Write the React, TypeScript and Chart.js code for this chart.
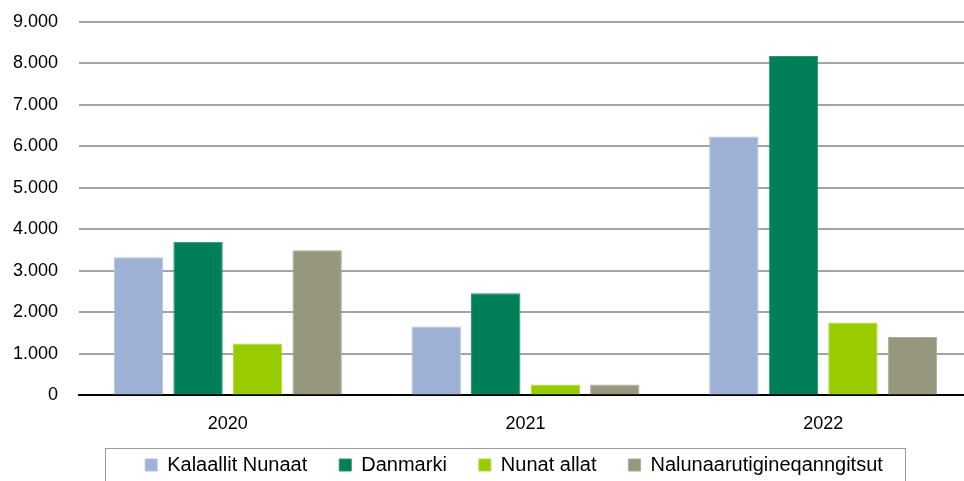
import React, { useEffect, useRef } from "react";
import { Chart, registerables } from "chart.js";

Chart.register(...registerables);

const categories = ["2020", "2021", "2022"];
const seriesNames = ["Kalaallit Nunaat", "Danmarki", "Nunat allat", "Nalunaarutigineqanngitsut"];
const kalaallitNunaat = [3330, 1660, 6240];
const danmarki = [3705, 2460, 8180];
const nunatAllat = [1250, 260, 1755];
const nalunaarutigineqanngitsut = [3500, 260, 1405];
const seriesColors = ["#9DB0D6", "#007E57", "#99CC00", "#96977D"];
const seriesBorders = ["#B4C3E0", "#2A9470", "#B3DB3D", "#ADAE98"];
const yMax = 9000;
const yStep = 1000;

const legendShiftPlugin = {
  id: "legendShift",
  afterLayout(chart: any) {
    const lg = chart.legend;
    if (!lg) return;
    const dy = 30;
    const dx = 28;
    lg.top -= dy;
    lg.bottom -= dy;
    lg.left += dx;
    lg.right += dx;
  },
};

const legendBoxPlugin = {
  id: "legendBox",
  afterDraw(chart: any) {
    const lg = chart.legend;
    if (!lg || !lg.legendHitBoxes || !lg.legendHitBoxes.length) return;
    const hb = lg.legendHitBoxes;
    const first = hb[0];
    const last = hb[hb.length - 1];
    const cy = first.top + first.height / 2;
    const ctx = chart.ctx;
    ctx.save();
    ctx.strokeStyle = "#9a9a9a";
    ctx.lineWidth = 1;
    const l = Math.round(first.left - 40) + 0.5;
    const r = Math.round(last.left + last.width + 22) + 0.5;
    const t = Math.round(cy - 17) + 0.5;
    const b = Math.round(cy + 22) + 0.5;
    ctx.strokeRect(l, t, r - l, b - t);
    ctx.restore();
  },
};

export default function App() {
  const ref = useRef<HTMLCanvasElement | null>(null);
  useEffect(() => {
    if (!ref.current) return;
    Chart.defaults.font.family = "'Liberation Sans', Arial, sans-serif";
    const values = [kalaallitNunaat, danmarki, nunatAllat, nalunaarutigineqanngitsut];
    const chart = new Chart(ref.current, {
      type: "bar",
      data: {
        labels: categories,
        datasets: seriesNames.map((name, i) => ({
          label: name,
          data: values[i],
          backgroundColor: seriesColors[i],
          borderColor: seriesBorders[i],
          borderWidth: 1,
          categoryPercentage: 0.8,
          barPercentage: 0.83,
        })),
      },
      options: {
        responsive: false,
        animation: false,
        layout: { padding: { left: 0, right: 8, top: 22, bottom: 0 } },
        plugins: {
          title: { display: false },
          tooltip: { enabled: false },
          legend: {
            position: "bottom",
            labels: {
              boxWidth: 12,
              boxHeight: 12,
              padding: 32,
              color: "#000",
              font: { size: 20 },
            },
          },
        },
        scales: {
          x: {
            grid: { display: false, drawTicks: false },
            border: { display: true, color: "#000", width: 2 },
            ticks: { color: "#000", font: { size: 18 }, padding: 18 },
          },
          y: {
            min: 0,
            max: yMax,
            grid: {
              color: "#a3a3a3",
              lineWidth: 2,
              drawTicks: true,
              tickLength: 21,
              tickColor: "rgba(0,0,0,0)",
            },
            border: { display: false },
            ticks: {
              stepSize: yStep,
              color: "#000",
              font: { size: 18 },
              padding: 0,
              callback: (v: any) => Number(v).toLocaleString("de-DE"),
            },
            afterFit(scale: any) {
              scale.width = 79;
            },
          },
        },
      },
      plugins: [legendShiftPlugin, legendBoxPlugin],
    });
    return () => chart.destroy();
  }, []);
  return (
    <div style={{ position: "fixed", left: 0, top: 0, width: 964, height: 481, overflow: "hidden", background: "#fff" }}>
      <canvas ref={ref} width={980} height={515} style={{ display: "block" }} />
    </div>
  );
}
